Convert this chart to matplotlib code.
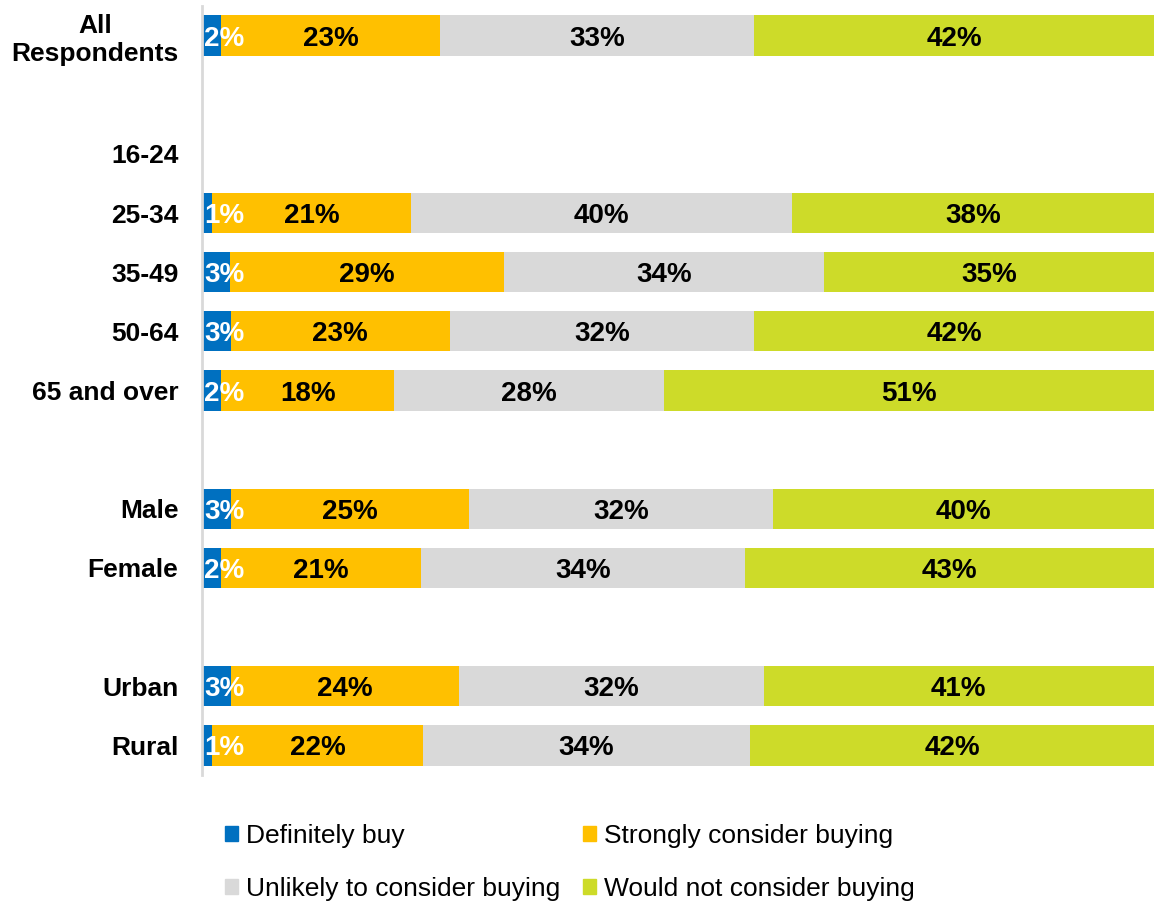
import numpy as np
import matplotlib.pyplot as plt
from matplotlib.patches import Patch

plt.rcParams['font.family'] = ['Liberation Sans', 'DejaVu Sans']

groups = ['All\nRespondents', '16-24', '25-34', '35-49', '50-64', '65 and over',
          'Male', 'Female', 'Urban', 'Rural']
# row slot of each group (blank slots separate the blocks)
slots = [0, 2, 3, 4, 5, 6, 8, 9, 11, 12]

definitely = [2, np.nan, 1, 3, 3, 2, 3, 2, 3, 1]
strongly = [23, np.nan, 21, 29, 23, 18, 25, 21, 24, 22]
unlikely = [33, np.nan, 40, 34, 32, 28, 32, 34, 32, 34]
would_not = [42, np.nan, 38, 35, 42, 51, 40, 43, 41, 42]

series_names = ['Definitely buy', 'Strongly consider buying',
                'Unlikely to consider buying', 'Would not consider buying']
colors = ['#0070C0', '#FFC000', '#D9D9D9', '#CDDB29']

fig = plt.figure(figsize=(11.54, 9.01), dpi=100)
ax = fig.add_axes([202 / 1154, 1 - 775 / 901, 952 / 1154, 769 / 901])

data = np.array([definitely, strongly, unlikely, would_not], dtype=float)
# 100% stacked: each row scaled to its own total
totals = np.nansum(data, axis=0)
totals[totals == 0] = 1
shares = np.nan_to_num(data) / totals * 100

left = np.zeros(len(groups))
for i, vals in enumerate(data):
    w = shares[i]
    ax.barh(slots, w, left=left, height=0.68, color=colors[i], label=series_names[i])
    for y, l, ww, v in zip(slots, left, w, vals):
        if np.isnan(v):
            continue
        if i == 0:
            # first segment is too thin, label sits at the start in white
            ax.annotate(f'{v:.0f}%', (0, y), xytext=(2, 0), textcoords='offset pixels',
                        ha='left', va='center_baseline', color='white',
                        fontsize=20, fontweight='bold')
        else:
            ax.text(l + ww / 2, y, f'{v:.0f}%', ha='center', va='center_baseline',
                    color='black', fontsize=20, fontweight='bold')
    left = left + w

ax.set_xlim(0, 100)
ax.set_ylim(12.5, -0.5)
ax.set_yticks(slots)
ax.set_yticklabels(groups, fontsize=19, fontweight='bold', multialignment='center')
ax.tick_params(axis='y', length=0, pad=17)
ax.set_xticks([])
for s in ['top', 'right', 'bottom']:
    ax.spines[s].set_visible(False)
ax.spines['left'].set_color('#D9D9D9')
ax.spines['left'].set_linewidth(2)

handles = [Patch(color=colors[k], label=series_names[k]) for k in (0, 2, 1, 3)]
fig.legend(handles=handles, ncol=2, loc='upper left',
           bbox_to_anchor=(225 / 1154, 1 - 824 / 901), frameon=False,
           fontsize=19, handlelength=0.5, handleheight=0.5, handletextpad=0.3,
           columnspacing=0.85, labelspacing=1.1, borderpad=0, borderaxespad=0)

fig.savefig('out.png', dpi=100)
